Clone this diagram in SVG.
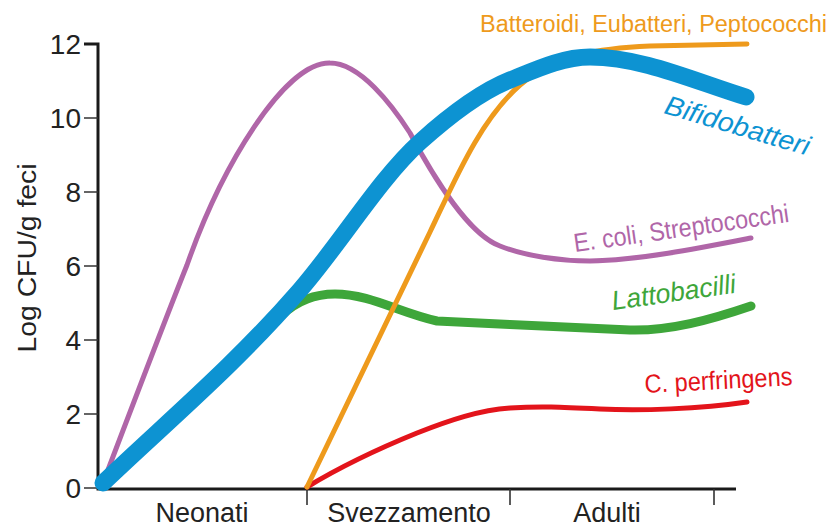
<svg xmlns="http://www.w3.org/2000/svg" width="834" height="530" viewBox="0 0 834 530">
<style>
text{font-family:"Liberation Sans",Arial,sans-serif}
.ax{stroke:#1a1a1a;fill:none;stroke-width:3}
.tk{stroke:#333;fill:none;stroke-width:1.6}
.num{font-size:28px;fill:#222;text-anchor:end}
.xl{font-size:27px;fill:#222;text-anchor:middle}
.c{fill:none;stroke-linecap:round;stroke-linejoin:round}
</style>
<rect width="834" height="530" fill="#fff"/>
<g id="axes">
<path class="ax" d="M84,44 H98 V489 H736"/>
<path class="tk" d="M84,118H98M84,192H98M84,266H98M84,340H98M84,414H98M84,488H98M307,489V505M510,489V505M714,489V505"/>
<text class="num" x="81" y="54">12</text>
<text class="num" x="81" y="128">10</text>
<text class="num" x="81" y="202">8</text>
<text class="num" x="81" y="276">6</text>
<text class="num" x="81" y="350">4</text>
<text class="num" x="81" y="424">2</text>
<text class="num" x="81" y="498">0</text>
<text transform="translate(36,258) rotate(-90)" text-anchor="middle" font-size="26" fill="#222" textLength="189" lengthAdjust="spacingAndGlyphs">Log CFU/g feci</text>
<text class="xl" x="202" y="522">Neonati</text>
<text class="xl" x="409" y="522">Svezzamento</text>
<text class="xl" x="607" y="522">Adulti</text>
</g>
<g id="red-perfringens">
<path class="c" stroke="#e3141b" stroke-width="5" d="M307,487 C340,467 380,448 417,433 C450,420 480,410 510,408 C540,406 560,407 600,409 C640,411 700,409 747,402"/>
<text transform="translate(645,393) rotate(-3)" font-size="26" fill="#e3141b" textLength="148" lengthAdjust="spacingAndGlyphs">C. perfringens</text>
</g>
<g id="green-lattobacilli">
<path class="c" stroke="#3ea63a" stroke-width="9" d="M282,315 C298,300 315,294 335,294 C370,294 400,313 437,321 C500,324 580,328 630,330 C670,331 710,320 751,306"/>
<text transform="translate(613,310) rotate(-8)" font-size="27" font-style="italic" fill="#3ea63a" textLength="125" lengthAdjust="spacingAndGlyphs">Lattobacilli</text>
</g>
<g id="purple-ecoli">
<path class="c" stroke="#b066a8" stroke-width="5" d="M103,483 C130,412 165,320 187,265 C222,165 285,62 330,63 C360,63 392,105 410,133 C435,180 470,235 500,246 C525,256 560,261 590,261 C640,260 700,248 751,238"/>
<text transform="translate(575,252) rotate(-8)" font-size="26" fill="#b066a8" textLength="217" lengthAdjust="spacingAndGlyphs">E. coli, Streptococchi</text>
</g>
<g id="orange-batteroidi">
<path class="c" stroke="#ee9a1c" stroke-width="5" d="M307,487 L430,232 C455,180 480,120 520,85 C555,55 600,48 650,46 L747,44"/>
<text x="480" y="32" font-size="23.5" fill="#ee9a1c" textLength="347" lengthAdjust="spacingAndGlyphs">Batteroidi, Eubatteri, Peptococchi</text>
</g>
<g id="blue-bifidobatteri">
<path class="c" stroke="#0d93d2" stroke-width="17" d="M103,483 C168,421 235,365 300,290 C340,244 380,178 420,142 C450,115 480,92 510,80 C537,69 563,57 590,57 C642,57 694,81 746,97"/>
<text transform="translate(663,113) rotate(16.5)" font-size="27" font-style="italic" fill="#0d93d2" textLength="150" lengthAdjust="spacingAndGlyphs">Bifidobatteri</text>
</g>
</svg>
